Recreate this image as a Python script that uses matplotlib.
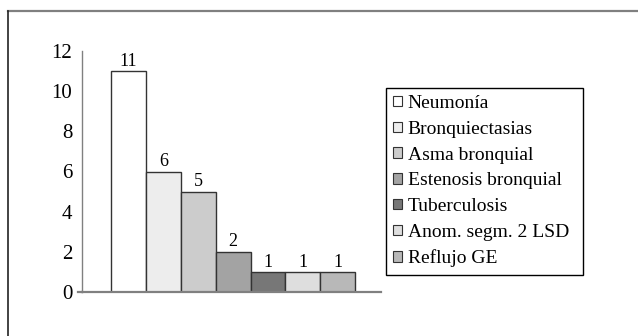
import matplotlib
matplotlib.use("Agg")
import matplotlib.pyplot as plt
from matplotlib.lines import Line2D
from matplotlib.patches import Rectangle

categories = ["Neumonía", "Bronquiectasias", "Asma bronquial", "Estenosis bronquial",
              "Tuberculosis", "Anom. segm. 2 LSD", "Reflujo GE"]
counts = [11, 6, 5, 2, 1, 1, 1]
colors = ["#ffffff", "#ededed", "#cccccc", "#a3a3a3", "#777777", "#dedede", "#b8b8b8"]
yticks = [0, 2, 4, 6, 8, 10, 12]

plt.rcParams["font.family"] = ["Liberation Serif", "DejaVu Serif"]

W, H = 638, 336
fig = plt.figure(figsize=(W / 100, H / 100), dpi=100)
ax = fig.add_axes([82 / W, 1 - 292 / H, 299 / W, 241 / H])

for i, (name, val, col) in enumerate(zip(categories, counts, colors)):
    bars = ax.bar(i, val, width=1.0, color=col, edgecolor="#333333", linewidth=1.0, label=name)
    ax.bar_label(bars, labels=[str(val)], padding=1, fontsize=13)

ax.set_xlim(-1.33, 7.24)
ax.set_ylim(0, 12)
ax.set_yticks(yticks)
ax.set_xticks([])
ax.tick_params(axis="y", length=0, pad=7, labelsize=15)
for s in ("top", "right"):
    ax.spines[s].set_visible(False)
ax.spines["left"].set_color("#808080")
ax.spines["left"].set_linewidth(1.0)
ax.spines["bottom"].set_color("#808080")
ax.spines["bottom"].set_linewidth(1.6)
ax.add_line(Line2D([-0.012, 0], [0, 0], transform=ax.transAxes, color="#808080",
                   linewidth=1.6, clip_on=False))

# legend entries without frame; the box is drawn separately
leg = ax.legend(loc="upper left", bbox_to_anchor=(393 / W, 1 - 95 / H),
                bbox_transform=fig.transFigure, fontsize=14, frameon=False,
                handlelength=0.45, handleheight=0.45, handletextpad=0.3,
                labelspacing=0.45, borderpad=0, borderaxespad=0)
for h in leg.legend_handles:
    h.set_edgecolor("#333333")
    h.set_linewidth(0.8)
fig.add_artist(Rectangle((386 / W, 1 - 275 / H), (583 - 386) / W, (275 - 88) / H,
                         transform=fig.transFigure, fill=False, edgecolor="#000000",
                         linewidth=1.0))

# outer chart frame (top and left edges)
fig.add_artist(Line2D([8 / W, 1], [1 - 11 / H, 1 - 11 / H], transform=fig.transFigure,
                      color="#808080", linewidth=1.6))
fig.add_artist(Line2D([8 / W, 8 / W], [0, 1 - 11 / H], transform=fig.transFigure,
                      color="#222222", linewidth=1.2))

fig.savefig("out.png", dpi=100)
